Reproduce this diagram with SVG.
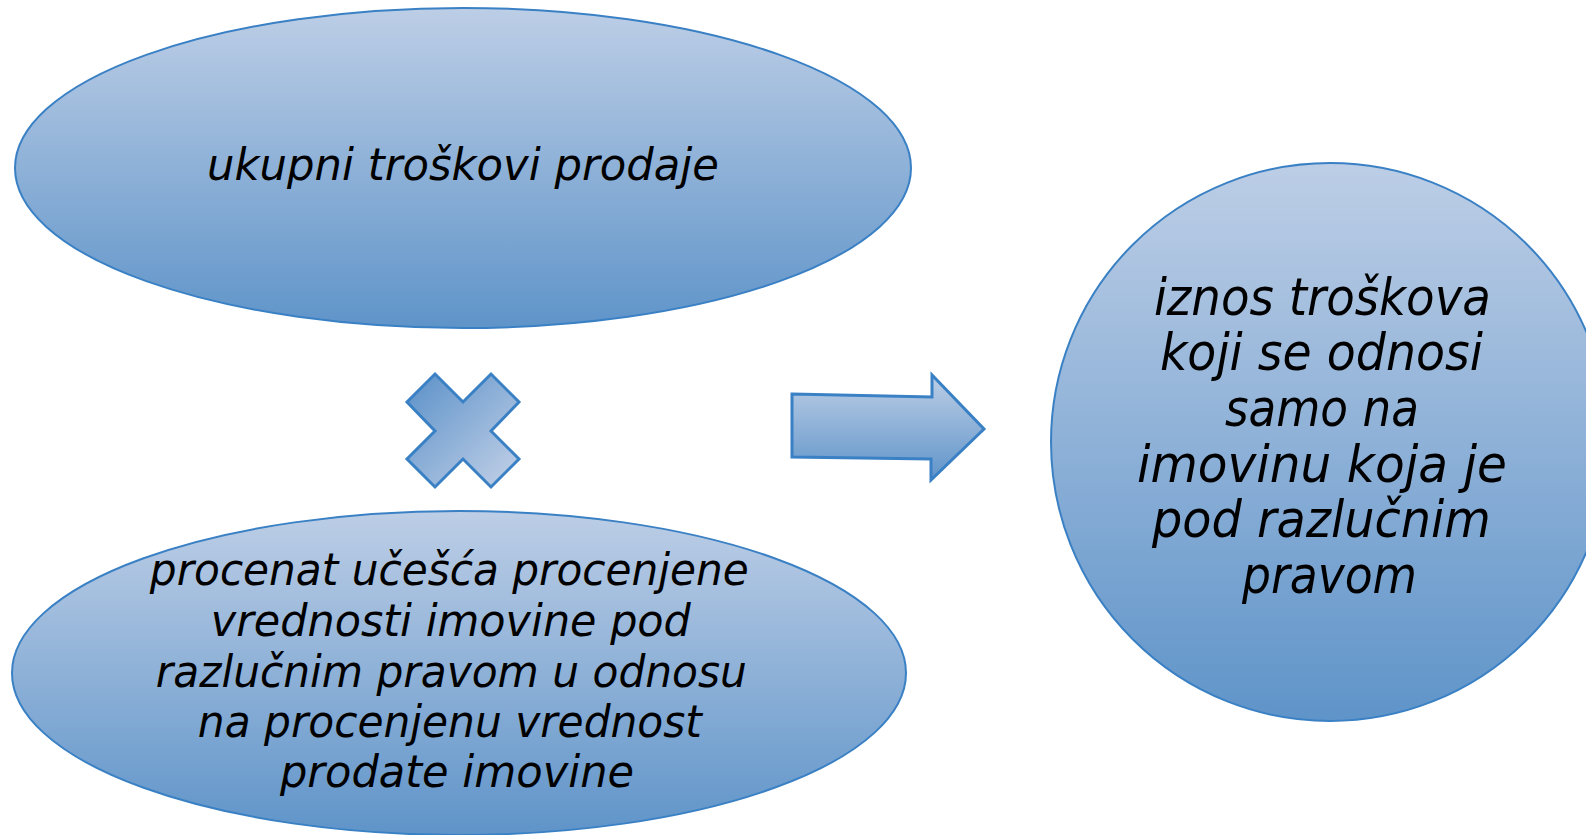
<svg xmlns="http://www.w3.org/2000/svg" width="1586" height="835" viewBox="0 0 1586 835">
  <defs>
    <linearGradient id="gv" x1="0" y1="0" x2="0" y2="1">
      <stop offset="0" stop-color="#bdcee6"/>
      <stop offset="1" stop-color="#5f94c9"/>
    </linearGradient>
    <linearGradient id="gx" x1="0" y1="0" x2="1" y2="1">
      <stop offset="0" stop-color="#5a90c8"/>
      <stop offset="1" stop-color="#c4d2e8"/>
    </linearGradient>
    <style>
      .shape { fill: url(#gv); stroke: #3a80c4; stroke-width: 2; }
      .sym { stroke: #3a80c4; stroke-width: 3; stroke-linejoin: miter; }
      .lbl { font-family: "DejaVu Sans", "Open Sans", sans-serif; font-style: italic; fill: #000000; text-anchor: middle; }
    </style>
  </defs>

  <g id="node-ukupni">
    <ellipse class="shape" cx="463" cy="168" rx="448" ry="160"/>
    <text class="lbl" x="463" y="180" font-size="45" textLength="512" lengthAdjust="spacingAndGlyphs">ukupni troškovi prodaje</text>
  </g>

  <g id="node-procenat">
    <ellipse class="shape" cx="459" cy="673" rx="447" ry="162"/>
    <text class="lbl" font-size="45">
      <tspan x="456.5" y="585" textLength="599" lengthAdjust="spacingAndGlyphs">procenat učešća procenjene</tspan>
      <tspan x="458" y="636" textLength="480" lengthAdjust="spacingAndGlyphs">vrednosti imovine pod</tspan>
      <tspan x="458.5" y="687" textLength="591" lengthAdjust="spacingAndGlyphs">razlučnim pravom u odnosu</tspan>
      <tspan x="457" y="737" textLength="504" lengthAdjust="spacingAndGlyphs">na procenjenu vrednost</tspan>
      <tspan x="457" y="787" textLength="354" lengthAdjust="spacingAndGlyphs">prodate imovine</tspan>
    </text>
  </g>

  <g id="node-iznos">
    <circle class="shape" cx="1330" cy="442" r="279"/>
    <text class="lbl" font-size="51">
      <tspan x="1330.5" y="315" textLength="337" lengthAdjust="spacingAndGlyphs">iznos troškova</tspan>
      <tspan x="1329.5" y="370" textLength="323" lengthAdjust="spacingAndGlyphs">koji se odnosi</tspan>
      <tspan x="1330" y="426" textLength="194" lengthAdjust="spacingAndGlyphs">samo na</tspan>
      <tspan x="1330" y="482" textLength="370" lengthAdjust="spacingAndGlyphs">imovinu koja je</tspan>
      <tspan x="1329.5" y="537" textLength="339" lengthAdjust="spacingAndGlyphs">pod razlučnim</tspan>
      <tspan x="1329.5" y="593" textLength="175" lengthAdjust="spacingAndGlyphs">pravom</tspan>
    </text>
  </g>

  <g id="connectors">
    <polygon id="multiply" class="sym" fill="url(#gx)" points="435,374 463,402 491,374 519,402 491,431 519,459 491,487 463,459 435,487 407,459 435,431 407,402"/>
    <polygon id="arrow" class="sym" fill="url(#gv)" points="792,394 932,397 932,375 984,429 931,480 931,459 792,457"/>
  </g>
</svg>
